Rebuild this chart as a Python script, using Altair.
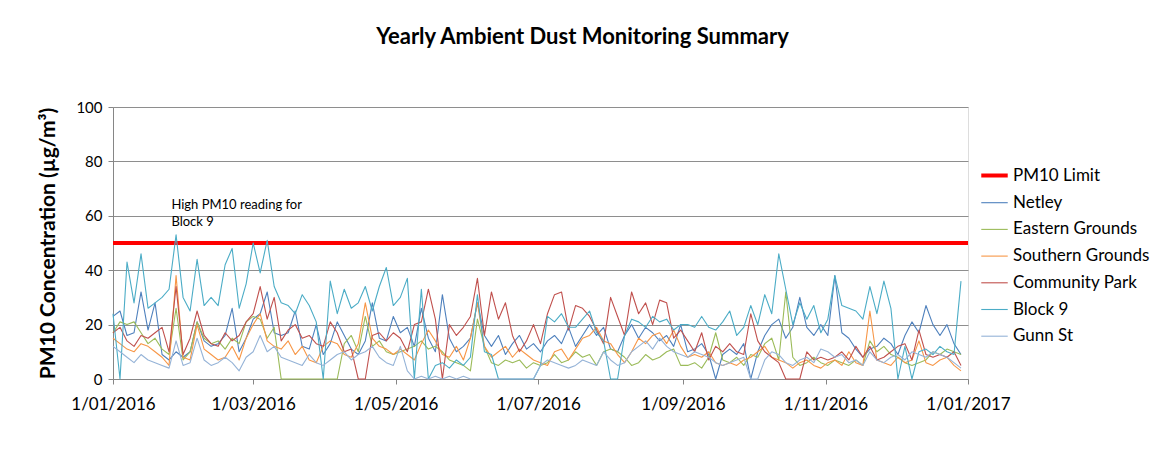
import datetime as dt
import altair as alt
import pandas as pd

# ---- data (readings every 3 days) ----
START = dt.date(2016, 1, 1)
STEP_DAYS = 3

netley = [23, 25, 16, 17, 32, 18, 28, 9, 7, 10, 8,
          10, 21, 14, 12, 13, 16, 26, 10, 15,
          22, 24, 32, 17, 16, 17, 25, 12, 11, 20, 9,
          13, 21, 16, 11, 9, 14, 28, 15, 14, 23,
          17, 19, 12, 26, 15, 10, 31, 15, 10, 12,
          15, 28, 16, 12, 16, 9, 13, 16, 11, 13,
          10, 14, 16, 13, 19, 12, 16, 20, 16, 19,
          11, 10, 16, 20, 15, 19, 17, 14, 16, 12, 20,
          10, 11, 13, 9, 0, 9, 11, 9, 13, 0,
          10, 16, 20, 22, 15, 19, 30, 19, 16, 20,
          16, 38, 17, 15, 11, 8, 11, 12, 15, 13,
          9, 16, 21, 17, 27, 20, 16, 20, 13, 9]

eastern = [17, 21, 20, 21, 17, 13, 15, 11, 9, 26, 7,
           10, 21, 15, 13, 14, 11, 15, 13, 21,
           23, 22, 15, 19, 0, 0, 0, 0, 0, 0, 0,
           0, 0, 13, 16, 10, 23, 12, 14, 10, 9,
           10, 11, 12, 14, 11, 12, 10, 7, 6, 5,
           3, 22, 12, 6, 5, 7, 6, 7, 4, 6,
           5, 6, 9, 6, 7, 10, 8, 9, 5, 10,
           11, 10, 8, 5, 6, 9, 7, 8, 10, 11, 5,
           5, 6, 4, 8, 17, 7, 6, 8, 5, 9,
           8, 13, 15, 7, 32, 8, 5, 6, 8, 6,
           5, 7, 6, 5, 7, 5, 14, 10, 12, 9,
           8, 6, 5, 6, 7, 10, 9, 11, 10, 9]

southern = [15, 13, 11, 10, 13, 12, 10, 8, 5, 38, 8,
            7, 20, 11, 9, 7, 8, 12, 7, 15,
            20, 24, 14, 12, 11, 14, 9, 12, 7, 6, 12,
            14, 13, 9, 8, 13, 28, 15, 12, 11, 9,
            11, 9, 7, 13, 18, 14, 9, 8, 12, 7,
            15, 28, 12, 8, 10, 12, 8, 11, 9, 7,
            6, 5, 10, 11, 7, 11, 15, 16, 19, 14,
            13, 9, 6, 10, 15, 13, 16, 17, 13, 18, 12,
            8, 9, 8, 10, 6, 5, 6, 5, 7, 8,
            10, 12, 8, 7, 6, 4, 6, 7, 5, 4,
            6, 7, 5, 10, 6, 5, 25, 7, 6, 5,
            8, 6, 7, 14, 6, 5, 7, 8, 5, 3]

community = [17, 19, 14, 12, 16, 15, 17, 19, 10, 34, 9,
             15, 25, 16, 13, 12, 17, 14, 16, 21,
             24, 34, 22, 30, 14, 18, 20, 15, 16, 13, 12,
             21, 17, 10, 11, 0, 0, 16, 17, 14, 17,
             15, 10, 20, 21, 33, 22, 0, 20, 16, 19,
             23, 37, 16, 32, 22, 28, 16, 10, 14, 20,
             13, 24, 31, 32, 18, 27, 26, 23, 18, 13,
             30, 23, 16, 32, 24, 28, 20, 29, 28, 15, 18,
             14, 10, 17, 7, 12, 10, 13, 10, 9, 24,
             14, 10, 8, 6, 0, 0, 0, 10, 7, 8,
             7, 8, 10, 7, 12, 8, 12, 7, 8, 10,
             12, 13, 7, 18, 9, 8, 9, 8, 10, 5]

block9 = [24, 0, 43, 28, 46, 26, 28, 30, 33, 53, 30,
          25, 44, 27, 30, 27, 42, 48, 26, 35,
          50, 39, 51, 34, 28, 27, 24, 31, 27, 21, 0,
          36, 24, 33, 26, 28, 34, 25, 34, 41, 27,
          30, 37, 0, 33, 0, 5, 6, 4, 7, 5,
          8, 31, 10, 9, 0, 0, 0, 0, 0, 0,
          5, 23, 21, 24, 19, 19, 22, 25, 17, 14,
          0, 0, 16, 22, 21, 19, 23, 21, 22, 18, 20,
          20, 19, 23, 19, 18, 21, 25, 16, 19, 27,
          20, 31, 24, 46, 33, 20, 28, 22, 27, 17,
          22, 38, 27, 26, 25, 22, 34, 24, 36, 26,
          0, 12, 0, 10, 11, 9, 12, 10, 9, 36]

gunn = [12, 10, 8, 6, 9, 7, 6, 5, 4, 14, 5,
        6, 15, 7, 5, 6, 8, 6, 3, 8,
        10, 16, 10, 12, 8, 7, 6, 5, 9, 6, 5,
        7, 9, 10, 7, 9, 10, 12, 8, 6, 5,
        12, 3, 0, 1, 0, 1, 0, 1, 0, 1,
        0, 0, 0, 0, 0, 0, 0, 0, 0, 0,
        5, 7, 6, 5, 4, 5, 7, 6, 5, 10,
        7, 5, 6, 10, 12, 14, 11, 15, 12, 10, 9,
        8, 10, 9, 8, 6, 5, 6, 7, 8, 0,
        0, 7, 10, 9, 6, 5, 7, 8, 6, 11,
        10, 8, 9, 6, 7, 5, 10, 7, 6, 8,
        9, 7, 10, 9, 8, 10, 9, 8, 6, 4]

limit_value = 50
limit_days = [0, 366]

series_names = ["PM10 Limit", "Netley", "Eastern Grounds", "Southern Grounds",
                "Community Park", "Block 9", "Gunn St"]
series_colors = ["#FF0000", "#4F81BD", "#9BBB59", "#F79646",
                 "#C0504D", "#4BACC6", "#95B3D7"]
series_widths = [4, 1.1, 1.1, 1.1, 1.1, 1.1, 1.1]

note_text = ["High PM10  reading for", "Block 9"]
note_day = 25
note_value = 64

tick_dates = ["2016-01-01", "2016-03-01", "2016-05-01", "2016-07-01",
              "2016-09-01", "2016-11-01", "2017-01-01"]


def iso(d):
    return d.isoformat() + "T00:00:00Z"


rows = []
for day in limit_days:
    rows.append({"date": iso(START + dt.timedelta(days=day)),
                 "series": "PM10 Limit", "value": limit_value})
for name, vals in [("Netley", netley), ("Eastern Grounds", eastern),
                   ("Southern Grounds", southern), ("Community Park", community),
                   ("Block 9", block9), ("Gunn St", gunn)]:
    for i, v in enumerate(vals):
        rows.append({"date": iso(START + dt.timedelta(days=i * STEP_DAYS)),
                     "series": name, "value": v})
df = pd.DataFrame(rows)

note_df = pd.DataFrame({"date": [iso(START + dt.timedelta(days=note_day))],
                        "value": [note_value],
                        "text": [note_text]})

FONT = "Lato"

x_scale = alt.Scale(type="utc",
                    domain=[alt.DateTime(year=2016, month=1, date=1, utc=True),
                            alt.DateTime(year=2017, month=1, date=1, utc=True)])
tick_values = [alt.DateTime(year=int(t[:4]), month=int(t[5:7]), date=int(t[8:]), utc=True)
               for t in tick_dates]

x_enc = alt.X("date:T", scale=x_scale,
              axis=alt.Axis(values=tick_values,
                            labelExpr="utcFormat(datum.value, '%-d/%m/%Y')",
                            title=None, grid=False, labelFontSize=17,
                            labelFont=FONT, labelColor="#000000",
                            labelPadding=12, tickSize=5, tickColor="#868686",
                            domainColor="#868686", labelFlush=False))
y_enc = alt.Y("value:Q", scale=alt.Scale(domain=[0, 100], nice=False),
              axis=alt.Axis(values=[0, 20, 40, 60, 80, 100],
                            title="PM10 Concentration  (µg/m³)",
                            titleFont=FONT, titleFontSize=21, titleFontWeight="bold",
                            titleColor="#000000", titlePadding=17,
                            labelFontSize=15, labelFont=FONT, labelColor="#000000",
                            labelPadding=6, tickSize=5, tickColor="#868686",
                            domainColor="#868686", gridColor="#8E8E8E",
                            gridWidth=1))

legend_kw = dict(title=None, orient="none", legendX=866, legendY=53,
                 symbolType="stroke", symbolSize=700,
                 labelFont=FONT, labelFontSize=17,
                 labelColor="#000000", labelOffset=3,
                 rowPadding=4.7, padding=0, labelLimit=300)

lines = alt.Chart(df).mark_line(strokeJoin="round").encode(
    x=x_enc,
    y=y_enc,
    color=alt.Color("series:N",
                    scale=alt.Scale(domain=series_names, range=series_colors),
                    legend=alt.Legend(**legend_kw)),
    strokeWidth=alt.StrokeWidth("series:N",
                                scale=alt.Scale(type="ordinal", domain=series_names,
                                                range=series_widths),
                                legend=alt.Legend(**legend_kw)),
    order=alt.Order("series:N"),
)

note = alt.Chart(note_df).mark_text(align="left", baseline="middle", font=FONT,
                                    fontSize=13, color="#000000", lineHeight=17).encode(
    x=alt.X("date:T", scale=x_scale),
    y=alt.Y("value:Q"),
    text="text",
)

chart = alt.layer(lines, note).properties(
    width=855, height=272,
    title=alt.TitleParams("Yearly Ambient Dust Monitoring Summary", font=FONT,
                          fontSize=22, fontWeight="bold", color="#000000",
                          anchor="middle", dx=42, offset=34, baseline="alphabetic"),
    autosize=alt.AutoSizeParams(type="none"),
    padding={"left": 105, "top": 99, "right": 190, "bottom": 60},
).configure_view(stroke=None).configure(background="#ffffff")

chart.save("out.html", embed_options={"renderer": "svg", "actions": False})
